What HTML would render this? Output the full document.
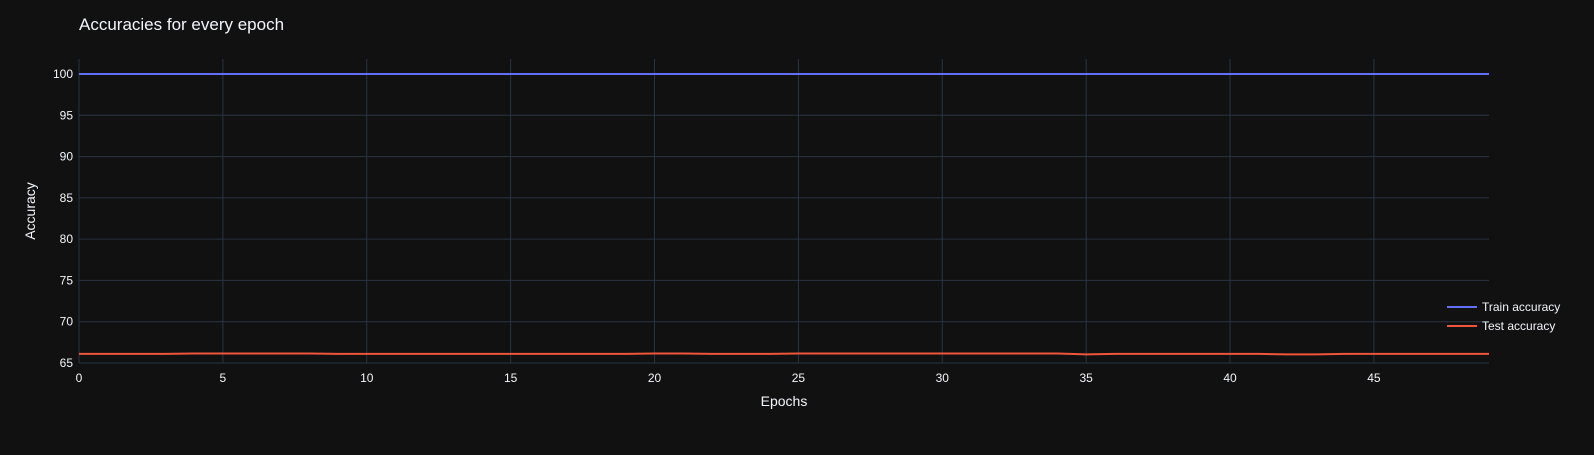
<!DOCTYPE html>
<html><head><meta charset="utf-8"><style>
body{margin:0;background:#111111;}
svg text{font-family:"Liberation Sans",sans-serif;}
</style></head><body>
<svg width="1594" height="450" xmlns="http://www.w3.org/2000/svg">
<rect width="1594" height="450" fill="#111111"/>
<text x="79" y="30" fill="#f2f5fa" font-size="17">Accuracies for every epoch</text>
<g id="grid"></g><g id="ticks"></g><g id="lines"></g>
<text x="784" y="406" fill="#f2f5fa" font-size="14" text-anchor="middle">Epochs</text>
<text transform="translate(35,211) rotate(-90)" fill="#f2f5fa" font-size="14" text-anchor="middle">Accuracy</text>
<g>
<g><line x1="1447" x2="1477" y1="307" y2="307" stroke="#636efa" stroke-width="2"/><text x="1482" y="311" fill="#f2f5fa" font-size="12">Train accuracy</text></g>
<g><line x1="1447" x2="1477" y1="326" y2="326" stroke="#ef553b" stroke-width="2"/><text x="1482" y="330" fill="#f2f5fa" font-size="12">Test accuracy</text></g>
</g>
</svg>
<script>
const epochs=[...Array(50).keys()];
const trainAcc=[100,100,100,100,100,100,100,100,100,100,100,100,100,100,100,100,100,100,100,100,100,100,100,100,100,100,100,100,100,100,100,100,100,100,100,100,100,100,100,100,100,100,100,100,100,100,100,100,100,100];
const testAcc=[66.1,66.1,66.1,66.1,66.15,66.15,66.15,66.15,66.15,66.1,66.1,66.1,66.1,66.1,66.1,66.1,66.1,66.1,66.1,66.1,66.15,66.15,66.1,66.1,66.1,66.15,66.15,66.15,66.15,66.15,66.15,66.15,66.15,66.15,66.15,66.05,66.1,66.1,66.1,66.1,66.1,66.1,66.05,66.05,66.1,66.1,66.1,66.1,66.1,66.1];
const xTicks=[0,5,10,15,20,25,30,35,40,45];
const yTicks=[65,70,75,80,85,90,95,100];
const X0=79,X1=1489,Y0=363,Y1=74;
const xs=v=>X0+(v-0)/49*(X1-X0);
const ys=v=>Y0-(v-65)/35*(Y0-Y1);
const NS='http://www.w3.org/2000/svg';
function mk(t,a,p){const e=document.createElementNS(NS,t);for(const k in a)e.setAttribute(k,a[k]);p.appendChild(e);return e;}
const g=document.getElementById('grid'),tk=document.getElementById('ticks'),ln=document.getElementById('lines');
xTicks.forEach(v=>{const l=mk('line',{x1:xs(v),x2:xs(v),y1:Y1-15,y2:Y0,stroke:'#283442','stroke-width':1},g);


const t=mk('text',{x:xs(v),y:Y0+19,fill:'#f2f5fa','font-size':12,'text-anchor':'middle'},tk);t.textContent=v;

});
yTicks.forEach(v=>{const l=mk('line',{x1:X0,x2:X1,y1:ys(v),y2:ys(v),stroke:'#283442','stroke-width':1},g);


const t=mk('text',{x:X0-6,y:ys(v)+4,fill:'#f2f5fa','font-size':12,'text-anchor':'end'},tk);t.textContent=v;

});
function path(arr,c,n){const d=arr.map((v,i)=>(i?'L':'M')+xs(epochs[i])+','+ys(v)).join('');
const p=mk('path',{d:d,fill:'none',stroke:c,'stroke-width':2},ln);

}
path(trainAcc,'#636efa','train-accuracy-line');
path(testAcc,'#ef553b','test-accuracy-line');
</script>
</body></html>
